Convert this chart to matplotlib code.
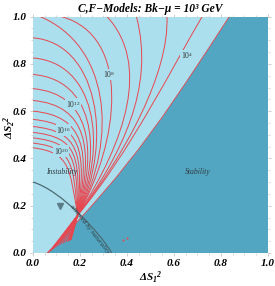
import numpy as np
import matplotlib
matplotlib.use("Agg")
import matplotlib.pyplot as plt
from matplotlib.path import Path
from matplotlib.patches import PathPatch, Polygon
from matplotlib.ticker import MultipleLocator, FormatStrFormatter

plt.rcParams['font.family'] = ['Liberation Serif', 'DejaVu Serif']
plt.rcParams['mathtext.fontset'] = 'custom'
plt.rcParams['mathtext.rm'] = 'Liberation Serif'
plt.rcParams['mathtext.it'] = 'Liberation Serif:italic'
plt.rcParams['mathtext.bf'] = 'Liberation Serif:italic:bold'

# stability boundary
edge_x = [0.06, 0.15, 0.25, 0.35, 0.45, 0.55, 0.65, 0.75, 0.835]
edge_y = [0.00, 0.09, 0.20, 0.315, 0.44, 0.575, 0.72, 0.87, 1.00]

# meeting point of the fine-tuning contours
meet = (0.19, 0.16)

# contours starting on the top edge: exponent, start x, first control point, end angle, reach
top_exp = [4, 5, 6, 7, 8, 9]
top_x = [0.72, 0.57, 0.44, 0.315, 0.12, 0.03]
top_c1x = [0.60, 0.58, 0.52, 0.50, 0.42, 0.32]
top_c1y = [0.80, 0.76, 0.70, 0.80, 0.92, 0.88]
top_ang = [50, 52, 54, 57, 60, 62]
top_reach = [0.35, 0.33, 0.32, 0.38, 0.36, 0.38]

# contours starting on the left edge
left_exp = [10, 11, 12, 13, 14, 15, 16, 17, 18, 19, 20, 21]
left_y = [0.91, 0.825, 0.755, 0.695, 0.645, 0.60, 0.565, 0.535, 0.51, 0.487, 0.465, 0.445]
left_c1x = [0.27, 0.26, 0.25, 0.24, 0.23, 0.22, 0.21, 0.20, 0.19, 0.18, 0.17, 0.16]
left_ang = [64, 67, 70, 73, 76, 79, 82, 85, 88, 91, 95, 100]
left_reach = [0.36, 0.34, 0.32, 0.30, 0.29, 0.28, 0.27, 0.26, 0.25, 0.24, 0.22, 0.20]

# where the contours end below the meeting point
tail_x = [0.065, 0.075, 0.085, 0.095, 0.105, 0.115, 0.125, 0.135, 0.145, 0.15, 0.155,
          0.158, 0.16, 0.162, 0.16, 0.158, 0.156, 0.155]
tail_y = [0.0, 0.008, 0.016, 0.024, 0.03, 0.036, 0.04, 0.044, 0.048, 0.05, 0.052,
          0.054, 0.055, 0.056, 0.058, 0.06, 0.062, 0.064]

# labelled contours
lab_exp = [4, 8, 12, 16, 20]
lab_x = [0.655, 0.325, 0.17, 0.13, 0.12]
lab_y = [0.835, 0.755, 0.63, 0.52, 0.43]

# naturality curve
nat_x = [0.0, 0.12, 0.29, 0.335]
nat_y = [0.30, 0.265, 0.08, 0.0]

light = '#abdfed'
dark = '#53a6c1'
red = '#e8464f'

fig = plt.figure(figsize=(2.75, 2.86), dpi=100)
ax = fig.add_axes([0.12, 0.1154, 0.8545, 0.8266])
ax.set_facecolor(light)
ax.set_xlim(0, 1)
ax.set_ylim(0, 1)

stab = list(zip(edge_x, edge_y)) + [(1.0, 1.0), (1.0, 0.0)]
ax.add_patch(Polygon(stab, closed=True, facecolor=dark, edgecolor='none', zorder=1))
ax.plot(edge_x, edge_y, color=red, lw=0.6, zorder=3)


def draw_curve(p0, p1, ang, reach, k):
    a = np.radians(ang)
    p2 = (meet[0] + reach * np.cos(a), meet[1] + reach * np.sin(a))
    verts = [p0, p1, p2, meet, (tail_x[k], tail_y[k])]
    codes = [Path.MOVETO, Path.CURVE4, Path.CURVE4, Path.CURVE4, Path.LINETO]
    ax.add_patch(PathPatch(Path(verts, codes), facecolor='none', edgecolor=red,
                           lw=0.7, zorder=2))


k = 0
for i in range(len(top_exp)):
    draw_curve((top_x[i], 1.0), (top_c1x[i], top_c1y[i]), top_ang[i], top_reach[i], k)
    k += 1
for i in range(len(left_exp)):
    draw_curve((0.0, left_y[i]), (left_c1x[i], left_y[i] - 0.02), left_ang[i], left_reach[i], k)
    k += 1

for e, x, y in zip(lab_exp, lab_x, lab_y):
    ax.text(x, y, r'$10^{%d}$' % e, fontsize=5.5, color='#333333', ha='center', va='center',
            zorder=4, bbox=dict(boxstyle='square,pad=0.05', fc=light, ec='none'))

# naturality curve, arrow and text
nat = Path(list(zip(nat_x, nat_y)), [Path.MOVETO, Path.CURVE4, Path.CURVE4, Path.CURVE4])
ax.add_patch(PathPatch(nat, facecolor='none', edgecolor='#4d6a74', lw=0.9, zorder=3))
ax.plot([0.115], [0.20], marker='v', ms=4.5, color='#5b7c88', zorder=4)
ax.text(0.24, 0.10, 'allowed by naturality', fontsize=5, style='italic', color='#2d3b40',
        rotation=-52, ha='center', va='center', zorder=4)
ax.plot([0.383, 0.40], [0.055, 0.065], ls='none', marker='.', ms=1, color=red, zorder=3)

ax.text(0.122, 0.343, 'Instability', fontsize=5.5, style='italic', color='#2d3b40',
        ha='center', va='center', zorder=4)
ax.text(0.70, 0.343, 'Stability', fontsize=5.5, style='italic', color='#2d3b40',
        ha='center', va='center', zorder=4)

ax.set_title('C,F\u2212Models: Bk\u2212\u03bc = 10\u00b3 GeV', fontsize=8.3,
             fontweight='bold', style='italic', pad=3)
ax.set_xlabel(r'$\mathbf{\Delta S_1}^{\mathbf{2}}$', fontsize=8)
ax.set_ylabel(r'$\mathbf{\Delta S_2}^{\mathbf{2}}$', fontsize=8)
ax.xaxis.set_label_coords(0.5, -0.07)
ax.yaxis.set_label_coords(-0.065, 0.53)

ax.xaxis.set_major_locator(MultipleLocator(0.2))
ax.yaxis.set_major_locator(MultipleLocator(0.2))
ax.xaxis.set_minor_locator(MultipleLocator(0.05))
ax.yaxis.set_minor_locator(MultipleLocator(0.05))
ax.xaxis.set_major_formatter(FormatStrFormatter('%.1f'))
ax.yaxis.set_major_formatter(FormatStrFormatter('%.1f'))
ax.tick_params(which='both', direction='out', color='#bbbbbb', top=True, right=True,
               labeltop=False, labelright=False)
ax.tick_params(which='major', length=2.5, width=0.5, pad=2, labelsize=8)
ax.tick_params(which='minor', length=1.5, width=0.4)
for lab in ax.get_xticklabels() + ax.get_yticklabels():
    lab.set_fontweight('bold')
    lab.set_fontstyle('italic')
for s in ax.spines.values():
    s.set_visible(False)

fig.savefig('out.png', dpi=100)
